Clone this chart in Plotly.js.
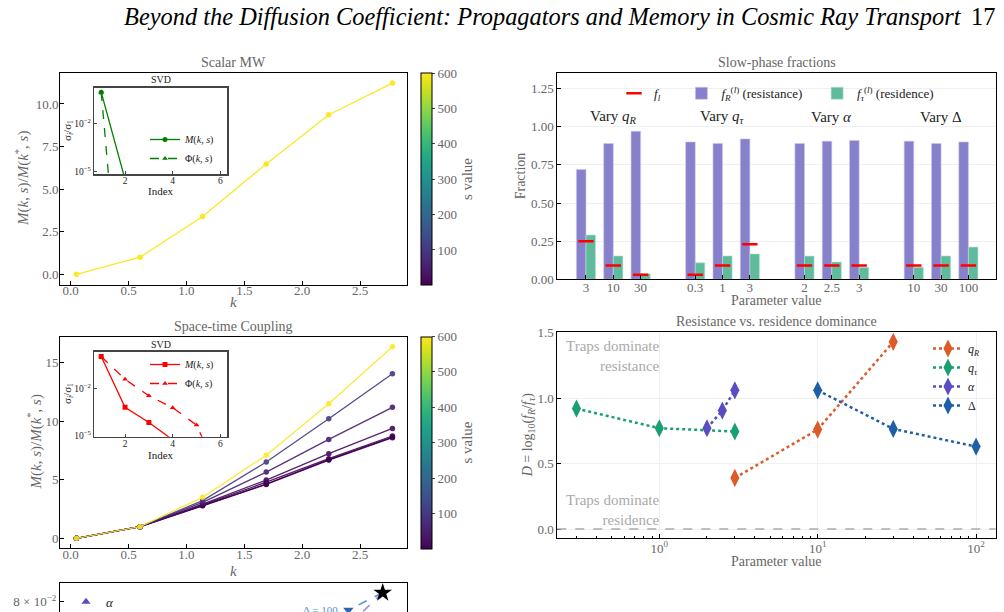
<!DOCTYPE html>
<html>
<head>
<meta charset="utf-8">
<script src="https://cdn.plot.ly/plotly-3.0.1.min.js"></script>
<style>
  html, body { margin: 0; padding: 0; background: #fff; overflow: hidden; }
  #fig { width: 1004px; height: 612px; }
</style>
</head>
<body>
<div id="fig"></div>
<script>
// ---------- data ----------
// wavenumbers and memory-kernel ratios M(k,s)/M(k*,s)
const kValues = [0.05, 0.6, 1.14, 1.69, 2.23, 2.78];
const scalarS = 600;
const scalarRatio = [0.0, 1.0, 3.39, 6.48, 9.37, 11.23];

const sValues = [1, 5, 10, 20, 50, 100, 600];
const ratio_s1   = [0, 1, 2.78, 4.60, 6.68, 8.60];
const ratio_s5   = [0, 1, 2.80, 4.64, 6.72, 8.65];
const ratio_s10  = [0, 1, 2.85, 4.80, 6.80, 8.74];
const ratio_s20  = [0, 1, 2.92, 4.98, 7.23, 9.39];
const ratio_s50  = [0, 1, 3.07, 5.66, 8.45, 11.19];
const ratio_s100 = [0, 1, 3.22, 6.52, 10.22, 14.06];
const ratio_s600 = [0, 1, 3.50, 7.09, 11.50, 16.36];

// normalised singular values sigma_i / sigma_1
const svdScalarIdxM = [1, 2];
const svdScalarM = [1, 3.2e-6];
const svdScalarIdxPhi = [1, 2];
const svdScalarPhi = [1, 1e-17];
const svdCoupIdxM = [1, 2, 3, 4];
const svdCoupM = [1, 6.5e-4, 7.2e-5, 5.8e-6];
const svdCoupIdxPhi = [1, 2, 3, 4, 5, 6];
const svdCoupPhi = [1, 3.7e-2, 3.4e-3, 6.0e-4, 4.9e-5, 2.5e-8];

// slow-phase fractions per parameter sweep
const groupLabels = ['Vary <i>q</i><sub><i>R</i></sub>', 'Vary <i>q</i><sub><i>τ</i></sub>', 'Vary <i>α</i>', 'Vary Δ'];
const paramLabels = ['3', '10', '30', '0.3', '1', '3', '2', '2.5', '3', '10', '30', '100'];
const fResist = [0.72, 0.89, 0.97, 0.90, 0.89, 0.92, 0.89, 0.905, 0.91, 0.905, 0.89, 0.90];
const fResid  = [0.29, 0.153, 0.036, 0.108, 0.153, 0.166, 0.152, 0.113, 0.079, 0.079, 0.153, 0.211];
const fL      = [0.25, 0.09, 0.03, 0.03, 0.09, 0.23, 0.09, 0.09, 0.09, 0.09, 0.09, 0.09];

// dominance D = log10(fR / ftau)
const qRVals = [3, 10, 30];      const D_qR = [0.39, 0.76, 1.43];
const qTauVals = [0.3, 1, 3];    const D_qTau = [0.92, 0.77, 0.745];
const alphaVals = [2, 2.5, 3];   const D_alpha = [0.77, 0.905, 1.06];
const deltaVals = [10, 30, 100]; const D_delta = [1.06, 0.765, 0.63];

// lower panel (baseline and sweep end-points)
const baseX = [9.30];        const baseY = [0.0887];
const deltaPathX = [9.30, 8.31]; const deltaPathY = [0.0887, 0.0727];
const alphaPathX = [9.30, 8.60]; const alphaPathY = [0.0887, 0.068];
const deltaEndLabel = 'Δ = 100';

// ---------- helpers ----------
const W = 1004, H = 612;
const px = x => x / W;
const py = y => 1 - y / H;
const SERIF = '"Liberation Serif", "DejaVu Serif", serif';
const GRAY = '#666';
const INK = '#222';
const NB = '\u00a0';

const VIRIDIS = [[0,'#440154'],[0.0627,'#48186a'],[0.1255,'#472d7b'],[0.1882,'#424086'],
  [0.2510,'#3b528b'],[0.3137,'#33638d'],[0.3765,'#2c728e'],[0.4392,'#26828e'],
  [0.5020,'#21918c'],[0.5647,'#1fa088'],[0.6275,'#28ae80'],[0.6902,'#3fbc73'],
  [0.7529,'#5ec962'],[0.8157,'#84d44b'],[0.8784,'#addc30'],[0.9412,'#d8e219'],[1,'#fde725']];
const S_MIN = 1, S_MAX = 600;
function hexRgb(h) { return [1,3,5].map(i => parseInt(h.slice(i, i + 2), 16)); }
function viridis(s) {
  const t = Math.min(1, Math.max(0, (s - S_MIN) / (S_MAX - S_MIN)));
  for (let i = 1; i < VIRIDIS.length; i++) {
    if (t <= VIRIDIS[i][0]) {
      const [t0, c0] = VIRIDIS[i - 1], [t1, c1] = VIRIDIS[i];
      const f = (t - t0) / (t1 - t0), a = hexRgb(c0), b = hexRgb(c1);
      return 'rgb(' + a.map((v, j) => Math.round(v + f * (b[j] - v))).join(',') + ')';
    }
  }
  return VIRIDIS[VIRIDIS.length - 1][1];
}
function colorbar(top, bottom) {
  return {
    x: px(421), xanchor: 'left', xref: 'paper', xpad: 0,
    y: py((top + bottom) / 2), yanchor: 'middle', yref: 'paper', ypad: 0,
    len: (bottom - top) / H, lenmode: 'fraction',
    thickness: 11, thicknessmode: 'pixels',
    outlinewidth: 1, outlinecolor: '#000',
    tickvals: [100, 200, 300, 400, 500, 600], ticks: 'outside', ticklen: 3,
    tickfont: {family: SERIF, size: 13, color: GRAY},
    title: {text: 's value', side: 'right', font: {family: SERIF, size: 15, color: GRAY}}
  };
}

const traces = [];

// ---------- Scalar MW ----------
traces.push({
  x: kValues, y: scalarRatio, xaxis: 'x', yaxis: 'y', mode: 'lines+markers',
  line: {color: viridis(scalarS), width: 1.3},
  marker: {size: 5.5, color: kValues.map(() => scalarS), colorscale: VIRIDIS, cmin: S_MIN, cmax: S_MAX,
           showscale: true, colorbar: colorbar(73, 285)},
  showlegend: false
});
traces.push({x: svdScalarIdxM, y: svdScalarM, xaxis: 'x2', yaxis: 'y2', mode: 'lines+markers',
  name: '<i>M</i>(<i>k</i>, <i>s</i>)', legend: 'legend4',
  line: {color: '#008000', width: 1.3}, marker: {symbol: 'circle', size: 5, color: '#008000'}});
traces.push({x: svdScalarIdxPhi, y: svdScalarPhi, xaxis: 'x2', yaxis: 'y2', mode: 'lines+markers',
  name: 'Φ(<i>k</i>, <i>s</i>)', legend: 'legend4',
  line: {color: '#008000', width: 1.3, dash: 'dash'}, marker: {symbol: 'triangle-up', size: 5, color: '#008000'}});

// ---------- Space-time coupling ----------
const couplingRows = [ratio_s1, ratio_s5, ratio_s10, ratio_s20, ratio_s50, ratio_s100, ratio_s600];
couplingRows.forEach((row, i) => {
  const s = sValues[i];
  traces.push({
    x: kValues, y: row, xaxis: 'x3', yaxis: 'y3', mode: 'lines+markers', opacity: 0.9,
    line: {color: viridis(s), width: 1.3},
    marker: {size: 5.5, color: kValues.map(() => s), colorscale: VIRIDIS, cmin: S_MIN, cmax: S_MAX,
             showscale: i === couplingRows.length - 1, colorbar: colorbar(336.7, 548.3)},
    showlegend: false
  });
});
traces.push({x: svdCoupIdxM, y: svdCoupM, xaxis: 'x4', yaxis: 'y4', mode: 'lines+markers',
  name: '<i>M</i>(<i>k</i>, <i>s</i>)', legend: 'legend5',
  line: {color: '#ff0000', width: 1.3}, marker: {symbol: 'square', size: 5, color: '#ff0000'}});
traces.push({x: svdCoupIdxPhi, y: svdCoupPhi, xaxis: 'x4', yaxis: 'y4', mode: 'lines+markers',
  name: 'Φ(<i>k</i>, <i>s</i>)', legend: 'legend5',
  line: {color: '#ff0000', width: 1.3, dash: 'dash'}, marker: {symbol: 'triangle-up', size: 5, color: '#ff0000'}});

// ---------- Slow-phase fractions ----------
const groupSize = 3, groupStride = 4;
const barPos = paramLabels.map((_, i) => Math.floor(i / groupSize) * groupStride + (i % groupSize));
const groupCenters = groupLabels.map((_, g) => g * groupStride + 1);
traces.push({x: barPos, y: fL, xaxis: 'x5', yaxis: 'y5', type: 'scatter', mode: 'markers',
  name: '<i>f</i><sub><i>l</i></sub>' + NB.repeat(5), legend: 'legend2',
  marker: {symbol: 'line-ew', size: 11, line: {color: '#ff0000', width: 2.5}}});
traces.push({x: barPos, y: fResist, xaxis: 'x5', yaxis: 'y5', type: 'bar',
  name: '<i>f</i><sub><i>R</i></sub><sup>(<i>l</i>)</sup> (resistance)' + NB.repeat(3), legend: 'legend2',
  marker: {color: '#8780ca', line: {color: '#c9c5ec', width: 0.6}}});
traces.push({x: barPos, y: fResid, xaxis: 'x5', yaxis: 'y5', type: 'bar',
  name: '<i>f</i><sub><i>τ</i></sub><sup>(<i>l</i>)</sup> (residence)', legend: 'legend2',
  marker: {color: '#60bb9c', line: {color: '#b5e0d1', width: 0.6}}});

// ---------- Dominance ----------
const domSeries = [
  {x: qRVals, y: D_qR, name: '<i>q</i><sub><i>R</i></sub>', color: '#dd5b2b'},
  {x: qTauVals, y: D_qTau, name: '<i>q</i><sub><i>τ</i></sub>', color: '#1a9e74'},
  {x: alphaVals, y: D_alpha, name: '<i>α</i>', color: '#5b4cc2'},
  {x: deltaVals, y: D_delta, name: 'Δ', color: '#1f5fa6'}
];
domSeries.forEach(d => traces.push({
  x: d.x, y: d.y, xaxis: 'x6', yaxis: 'y6', mode: 'lines+markers', name: d.name, legend: 'legend3',
  line: {color: d.color, width: 2.5, dash: 'dot'},
  marker: {symbol: 'diamond-tall', size: 13, color: d.color}
}));

// ---------- lower panel ----------
traces.push({x: alphaPathX, y: alphaPathY, xaxis: 'x7', yaxis: 'y7', mode: 'lines', showlegend: false,
  line: {color: '#9d94dc', width: 1.6, dash: 'dash'}});
traces.push({x: deltaPathX, y: deltaPathY, xaxis: 'x7', yaxis: 'y7', mode: 'lines', showlegend: false,
  line: {color: '#5b8fd0', width: 1.6, dash: 'dash'}});
traces.push({x: alphaPathX.slice(1), y: alphaPathY.slice(1), xaxis: 'x7', yaxis: 'y7', mode: 'markers',
  name: '<i>α</i>', legend: 'legend6', marker: {symbol: 'triangle-up', size: 8, color: '#5b4cc2'}});
traces.push({x: deltaPathX.slice(1), y: deltaPathY.slice(1), xaxis: 'x7', yaxis: 'y7', mode: 'markers',
  showlegend: false, marker: {symbol: 'triangle-down', size: 9, color: '#2e64b0'}});
traces.push({x: baseX, y: baseY, xaxis: 'x7', yaxis: 'y7', mode: 'markers', showlegend: false,
  marker: {symbol: 'star', size: 14, color: '#000'}});

// ---------- layout ----------
const tickFont = {family: SERIF, size: 13, color: GRAY};
const smallFont = {family: SERIF, size: 9.5, color: INK};
function mainAxis(extra) {
  return Object.assign({
    showline: true, mirror: true, linecolor: '#000', linewidth: 1,
    ticks: 'inside', ticklen: 4, tickcolor: '#000', showgrid: false, zeroline: false,
    tickfont: tickFont
  }, extra);
}
function insetAxis(extra) {
  return Object.assign({
    showline: true, mirror: true, linecolor: '#444', linewidth: 1.6,
    ticks: 'inside', ticklen: 3, tickcolor: '#444', showgrid: false, zeroline: false,
    tickfont: smallFont
  }, extra);
}
const logTicks = {tickvals: [1e-2, 1e-5], ticktext: ['10<sup>−2</sup>', '10<sup>−5</sup>']};

// axis titles placed as paper-anchored labels
function label(text, x, y, size, color, angle) {
  return {text: text, xref: 'paper', yref: 'paper', x: px(x), y: py(y), xanchor: 'center', yanchor: 'middle',
    showarrow: false, textangle: angle || 0, font: {family: SERIF, size: size, color: color}};
}
const mTitle = '<i>M</i>(<i>k</i>, <i>s</i>)/<i>M</i>(<i>k</i><sup>*</sup>, <i>s</i>)';
const sigmaTitle = 'σ<sub><i>i</i></sub>/σ<sub>1</sub>';

const layout = {
  width: W, height: H, margin: {l: 0, r: 0, t: 0, b: 0, autoexpand: false},
  paper_bgcolor: '#fff', plot_bgcolor: '#fff', hovermode: false,
  showlegend: true, barmode: 'group', bargap: 0.3, bargroupgap: 0,
  font: {family: SERIF, color: GRAY},

  xaxis: mainAxis({domain: [px(60), px(407)], anchor: 'y', range: [-0.092, 2.906], dtick: 0.5, tickformat: '.1f',
    ticklabelstandoff: -7}),
  yaxis: mainAxis({domain: [py(285), py(73)], anchor: 'x', range: [-0.63, 11.82], dtick: 2.5, tickformat: '.1f',
    ticklabelstandoff: -2}),

  xaxis2: insetAxis({domain: [px(94.3), px(227.3)], anchor: 'y2', range: [0.71, 6.29], dtick: 2, tick0: 0,
    ticklabelstandoff: -3}),
  yaxis2: insetAxis(Object.assign({domain: [py(174), py(87.7)], anchor: 'x2', type: 'log', range: [-5.15, 0.28]}, logTicks)),

  xaxis3: mainAxis({domain: [px(60), px(407)], anchor: 'y3', range: [-0.092, 2.906], dtick: 0.5, tickformat: '.1f',
    ticklabelstandoff: -6}),
  yaxis3: mainAxis({domain: [py(548.3), py(336.7)], anchor: 'x3', range: [-0.85, 17.22], dtick: 5,
    ticklabelstandoff: -2}),

  xaxis4: insetAxis({domain: [px(94.3), px(227.3)], anchor: 'y4', range: [0.71, 6.29], dtick: 2, tick0: 0,
    ticklabelstandoff: -3}),
  yaxis4: insetAxis(Object.assign({domain: [py(436.7), py(351.7)], anchor: 'x4', type: 'log', range: [-5.04, 0.30]}, logTicks)),

  xaxis5: mainAxis({domain: [px(557.3), px(995.7)], anchor: 'y5', range: [-1.05, 15.0],
    tickmode: 'array', tickvals: barPos, ticktext: paramLabels, ticklabelstandoff: -4}),
  yaxis5: mainAxis({domain: [py(279.3), py(73.3)], anchor: 'x5', range: [0, 1.35], dtick: 0.25, tickformat: '.2f',
    showgrid: true, gridcolor: '#f0f0f0', gridwidth: 1}),

  xaxis6: mainAxis({domain: [px(557.3), px(995.7)], anchor: 'y6', type: 'log', range: [-0.644, 2.124],
    tickvals: [1, 10, 100], ticktext: ['10<sup>0</sup>', '10<sup>1</sup>', '10<sup>2</sup>'],
    showgrid: true, gridcolor: '#f0f0f0', ticklabelstandoff: -2,
    minor: {ticks: 'inside', ticklen: 2, tickcolor: '#000', dtick: 'D1', showgrid: false}}),
  yaxis6: mainAxis({domain: [py(538.3), py(332.3)], anchor: 'x6', range: [-0.071, 1.503], dtick: 0.5, tickformat: '.1f',
    showgrid: true, gridcolor: '#f0f0f0'}),

  xaxis7: mainAxis({domain: [px(60), px(407)], anchor: 'y7', side: 'top', mirror: false, range: [0, 10],
    showticklabels: false, ticks: ''}),
  yaxis7: mainAxis({domain: [0, py(583.3)], anchor: 'x7', type: 'log', range: [-1.1485, -1.005],
    tickvals: [0.08], ticktext: ['8 × 10<sup>−2</sup>']}),

  legend2: {orientation: 'h', x: px(614), xanchor: 'left', y: py(93.3), yanchor: 'middle',
    bgcolor: 'rgba(0,0,0,0)', font: {family: SERIF, size: 13, color: INK}, itemwidth: 30},
  legend3: {x: px(928), xanchor: 'left', y: py(334), yanchor: 'top', tracegroupgap: 0,
    bgcolor: 'rgba(0,0,0,0)', font: {family: SERIF, size: 12, color: INK}, itemwidth: 30},
  legend4: {x: px(145), xanchor: 'left', y: py(149), yanchor: 'middle',
    bgcolor: 'rgba(0,0,0,0)', font: {family: SERIF, size: 10, color: INK}, itemwidth: 30},
  legend5: {x: px(145), xanchor: 'left', y: py(374), yanchor: 'middle',
    bgcolor: 'rgba(0,0,0,0)', font: {family: SERIF, size: 10, color: INK}, itemwidth: 30},
  legend6: {x: px(66), xanchor: 'left', y: py(601.7), yanchor: 'middle',
    bgcolor: 'rgba(0,0,0,0)', font: {family: SERIF, size: 13, color: INK}, itemwidth: 30},

  shapes: [
    {type: 'line', xref: 'x2 domain', x0: 0, x1: 1, yref: 'y2', y0: -2, y1: -2, line: {color: '#bbb', width: 1, dash: 'dash'}},
    {type: 'line', xref: 'x4 domain', x0: 0, x1: 1, yref: 'y4', y0: -2, y1: -2, line: {color: '#bbb', width: 1, dash: 'dash'}},
    {type: 'line', xref: 'x6 domain', x0: 0, x1: 1, yref: 'y6', y0: 0, y1: 0, line: {color: '#aaa', width: 1.5, dash: 'dash'}}
  ],

  annotations: [
    {text: '<i>Beyond the Diffusion Coefficient: Propagators and Memory in Cosmic Ray Transport</i>',
     xref: 'paper', yref: 'paper', x: px(122), y: py(16), xanchor: 'left', yanchor: 'middle', showarrow: false,
     font: {family: SERIF, size: 24.4, color: '#000'}},
    {text: '17', xref: 'paper', yref: 'paper', x: px(997), y: py(16), xanchor: 'right', yanchor: 'middle', showarrow: false,
     font: {family: SERIF, size: 24.4, color: '#000'}},
    label('Scalar MW', 233.5, 63, 14, GRAY),
    label('Space-time Coupling', 233.5, 326, 14, GRAY),
    label('Slow-phase fractions', 776.5, 62.5, 14, GRAY),
    label('Resistance vs. residence dominance', 776.5, 321, 14, GRAY),
    label('SVD', 160.8, 80, 10, INK),
    label('SVD', 160.8, 344, 10, INK),
    // axis titles
    label('<i>k</i>', 233.5, 302, 15, GRAY),
    label(mTitle, 22, 179, 15, GRAY, -90),
    label('<i>k</i>', 233.5, 571, 15, GRAY),
    label(mTitle, 35, 442.5, 15, GRAY, -90),
    label('Index', 160.8, 190.5, 11, INK),
    label(sigmaTitle, 68, 131, 11, INK, -90),
    label('Index', 160.8, 454.5, 11, INK),
    label(sigmaTitle, 68, 394, 11, INK, -90),
    label('Fraction', 520, 176.3, 14, GRAY, -90),
    label('Parameter value', 776.5, 300, 14, GRAY),
    label('<i>D</i> = log<sub>10</sub>(<i>f</i><sub><i>R</i></sub>/<i>f</i><sub><i>τ</i></sub>)', 528, 435.3, 14, GRAY, -90),
    label('Parameter value', 776.5, 561, 14, GRAY),
    ...groupLabels.map((g, i) => ({text: g, xref: 'x5', yref: 'y5', x: groupCenters[i], y: 1.062, yanchor: 'middle',
      showarrow: false, font: {family: SERIF, size: 15, color: INK}})),
    {text: 'Traps dominate<br>resistance', xref: 'x6 domain', yref: 'y6 domain', x: 0.2388, y: 0.887,
     xanchor: 'right', yanchor: 'middle', align: 'right', showarrow: false, font: {family: SERIF, size: 15, color: '#aaa'}},
    {text: 'Traps dominate<br>residence', xref: 'x6 domain', yref: 'y6 domain', x: 0.2388, y: 0.135,
     xanchor: 'right', yanchor: 'middle', align: 'right', showarrow: false, font: {family: SERIF, size: 15, color: '#aaa'}},
    {text: deltaEndLabel, xref: 'x7', yref: 'y7', x: deltaPathX[1], y: Math.log10(deltaPathY[1]), xanchor: 'right', xshift: -8,
     yanchor: 'middle', showarrow: false, font: {family: SERIF, size: 11, color: '#5b8fd0'}}
  ]
};

Plotly.newPlot('fig', traces, layout, {displayModeBar: false, staticPlot: true});
</script>
</body>
</html>
